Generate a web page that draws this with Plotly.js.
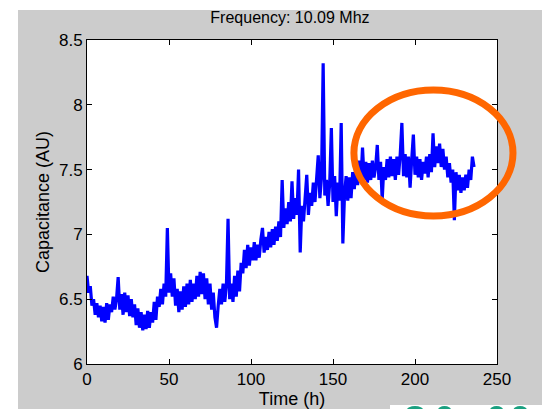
<!DOCTYPE html>
<html>
<head>
<meta charset="utf-8">
<script src="https://cdn.plot.ly/plotly-3.0.1.min.js"></script>
<style>html,body{margin:0;padding:0;background:#fff;}#chart{width:542px;height:409px;}</style>
</head>
<body>
<div id="chart"></div>
<script>
// Capacitance readings, one per hour starting at t = 0 h
const capacitance = [
  6.68,6.55,6.60,6.45,6.50,6.38,6.47,6.36,6.45,6.33,
  6.44,6.32,6.47,6.34,6.46,6.40,6.52,6.42,6.50,6.67,
  6.42,6.54,6.38,6.55,6.40,6.53,6.37,6.50,6.36,6.46,
  6.30,6.43,6.28,6.40,6.26,6.38,6.27,6.41,6.28,6.40,
  6.32,6.48,6.34,6.52,6.44,6.58,6.46,6.62,6.52,7.05,
  6.55,6.70,6.52,6.66,6.45,6.58,6.40,6.56,6.42,6.60,
  6.44,6.62,6.46,6.65,6.48,6.62,6.50,6.68,6.52,6.71,
  6.54,6.70,6.50,6.66,6.46,6.62,6.42,6.55,6.36,6.28,
  6.45,6.58,6.46,6.62,6.48,6.60,7.12,6.50,6.62,6.48,
  6.68,6.52,6.72,6.56,6.78,6.70,6.88,6.74,6.92,6.76,
  6.90,6.80,6.94,6.80,6.92,6.82,6.96,7.05,6.86,6.98,
  6.88,7.02,6.90,7.04,6.92,7.06,6.95,7.10,6.98,7.42,
  7.05,7.20,7.08,7.25,7.10,7.41,7.12,7.28,7.15,7.50,
  6.86,7.22,7.10,7.26,7.46,7.15,7.32,7.22,7.40,7.25,
  7.45,7.61,7.28,7.44,8.32,7.30,7.42,7.22,7.40,7.82,
  7.25,7.45,7.14,7.40,7.26,7.86,6.93,7.30,7.45,7.26,
  7.44,7.28,7.48,7.35,7.55,7.38,7.57,7.40,7.67,7.42,
  7.56,7.40,7.55,7.42,7.57,7.44,7.52,7.69,7.42,7.56,
  7.27,7.52,7.42,7.58,7.44,7.60,7.45,7.58,7.42,7.60,
  7.46,7.62,7.86,7.45,7.62,7.44,7.60,7.36,7.58,7.77,
  7.46,7.60,7.44,7.58,7.42,7.56,7.47,7.60,7.44,7.62,
  7.48,7.78,7.52,7.68,7.55,7.70,7.52,7.66,7.50,7.60,
  7.44,7.55,7.40,7.50,7.11,7.48,7.34,7.46,7.32,7.44,
  7.34,7.46,7.36,7.50,7.42,7.60,7.52
];
const startHour = 0;
const hourStep = 1;

const xTicks = [0, 50, 100, 150, 200, 250];
const yTicks = [6, 6.5, 7, 7.5, 8, 8.5];
const yTickLabels = ['6', '6.5', '7', '7.5', '8', '8.5'];

const chartTitle = 'Frequency: 10.09 Mhz';
const xTitle = 'Time (h)';
const yTitle = 'Capacitance (AU)';

const FONT = 'Liberation Sans, Arial, Helvetica, sans-serif';

const trace = {
  type: 'scatter',
  mode: 'lines',
  x0: startHour,
  dx: hourStep,
  y: capacitance,
  line: {color: '#0000ff', width: 3.2},
  hoverinfo: 'skip'
};

const gray = '#cccccc';
const teal = '#1aa080';

const layout = {
  width: 542,
  height: 409,
  margin: {l: 87, r: 45, t: 40, b: 45, pad: 0},
  paper_bgcolor: '#ffffff',
  plot_bgcolor: 'rgba(0,0,0,0)',
  showlegend: false,
  font: {family: FONT, color: '#000', size: 16},
  title: {
    text: chartTitle,
    font: {family: FONT, size: 16, color: '#000'},
    x: 0.495, xref: 'paper', xanchor: 'center',
    y: 0.958, yref: 'container', yanchor: 'middle'
  },
  xaxis: {
    range: [0, 250],
    tickvals: xTicks,
    ticktext: xTicks.map(String),
    ticks: 'inside', ticklen: 5, tickwidth: 1, tickcolor: '#000',
    showline: true, linecolor: '#000', linewidth: 1, mirror: 'ticks',
    showgrid: false, zeroline: false,
    tickfont: {family: FONT, size: 17, color: '#000'},
    title: {text: xTitle, font: {family: FONT, size: 18, color: '#000'}, standoff: 2},
    automargin: false
  },
  yaxis: {
    range: [6, 8.5],
    tickvals: yTicks,
    ticktext: yTickLabels,
    ticks: 'inside', ticklen: 5, tickwidth: 1, tickcolor: '#000',
    showline: true, linecolor: '#000', linewidth: 1, mirror: 'ticks',
    showgrid: false, zeroline: false,
    tickfont: {family: FONT, size: 17, color: '#000'},
    title: {text: yTitle, font: {family: FONT, size: 18, color: '#000'}, standoff: 4},
    automargin: false
  },
  shapes: [
    // gray figure background
    {type: 'rect', xref: 'paper', yref: 'paper', layer: 'below',
     x0: -0.1683, x1: 1.12, y0: -0.2, y1: 1.0926,
     fillcolor: gray, line: {width: 0}},
    // white strip bottom right
    {type: 'rect', xref: 'paper', yref: 'paper', layer: 'below',
     x0: 0.739, x1: 1.12, y0: -0.2, y1: -0.1265,
     fillcolor: '#ffffff', line: {width: 0}},
    // white plot area
    {type: 'rect', xref: 'paper', yref: 'paper', layer: 'below',
     x0: 0, x1: 1, y0: 0, y1: 1,
     fillcolor: '#ffffff', line: {width: 0}},
    // partial logo blobs
    {type: 'circle', xref: 'paper', yref: 'paper', layer: 'below',
     x0: 0.780, x1: 0.820, y0: -0.155, y1: -0.1295, fillcolor: teal, line: {width: 0}},
    {type: 'circle', xref: 'paper', yref: 'paper', layer: 'below',
     x0: 0.856, x1: 0.888, y0: -0.155, y1: -0.1295, fillcolor: teal, line: {width: 0}},
    {type: 'circle', xref: 'paper', yref: 'paper', layer: 'below',
     x0: 0.983, x1: 1.015, y0: -0.155, y1: -0.1295, fillcolor: teal, line: {width: 0}},
    {type: 'circle', xref: 'paper', yref: 'paper', layer: 'below',
     x0: 1.040, x1: 1.073, y0: -0.155, y1: -0.1295, fillcolor: teal, line: {width: 0}},
    // orange highlight ellipse
    {type: 'circle', xref: 'paper', yref: 'paper', layer: 'above',
     x0: 0.651, x1: 1.039, y0: 0.4568, y1: 0.8457,
     line: {color: '#ff6600', width: 7}, fillcolor: 'rgba(0,0,0,0)'}
  ]
};

Plotly.newPlot('chart', [trace], layout, {staticPlot: true, displayModeBar: false});
</script>
</body>
</html>
